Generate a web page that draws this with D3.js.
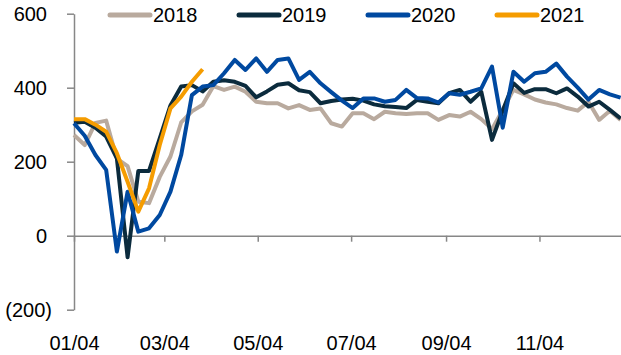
<!DOCTYPE html>
<html>
<head>
<meta charset="utf-8">
<script src="https://cdn.jsdelivr.net/npm/d3@7"></script>
<style>
  html, body { margin: 0; padding: 0; background: #fff; }
  svg { display: block; }
  text { font-family: "Liberation Sans", Arial, sans-serif; }
</style>
</head>
<body>
<svg id="chart" width="621" height="355"></svg>
<script>
// ---- data (weekly, starting 4 Jan) ----
const weekStart = "2021-01-04";
const seriesNames = ["2018", "2019", "2020", "2021"];
const s2018 = [272, 245, 305, 311, 208, 188, 92, 88, 159, 214, 306, 336, 354, 404, 394, 403, 389, 362, 358, 358, 344, 353, 340, 344, 304, 295, 331, 331, 315, 335, 331, 329, 331, 331, 313, 326, 322, 335, 315, 288, 340, 394, 382, 368, 360, 355, 345, 338, 362, 313, 338, 313];
const s2019 = [305, 308, 292, 268, 209, -58, 175, 175, 263, 352, 403, 407, 390, 416, 420, 416, 405, 374, 390, 408, 412, 393, 388, 358, 364, 368, 370, 365, 355, 350, 348, 345, 367, 362, 358, 385, 394, 362, 389, 259, 338, 412, 386, 396, 396, 385, 398, 376, 349, 362, 340, 317];
const s2020 = [304, 270, 218, 178, -43, 119, 11, 20, 56, 119, 218, 380, 403, 407, 439, 475, 448, 479, 443, 475, 479, 421, 443, 412, 388, 365, 345, 371, 371, 362, 367, 394, 372, 371, 360, 385, 381, 389, 398, 457, 292, 443, 416, 439, 443, 465, 430, 400, 368, 394, 382, 373];
const s2021 = [315, 315, 300, 281, 223, 146, 65, 128, 245, 344, 376, 416, 450];
const yTickValues = [-200, 0, 200, 400, 600];
const xTickLabels = ["01/04", "03/04", "05/04", "07/04", "09/04", "11/04"];
const colors = ["#B9AA9E", "#0B2B3D", "#0049A0", "#F59C00"];

// ---- layout ----
const svg = d3.select("#chart");
const parse = d3.timeParse("%Y-%m-%d");
const start = parse(weekStart);
const dateAt = i => d3.timeDay.offset(start, 7 * i);

const x = d3.scaleTime()
  .domain([start, dateAt(51)])
  .range([74, 620.6]);
const y = d3.scaleLinear()
  .domain([-200, 600])
  .range([309.7, 13.7]);

const axisColor = "#878787";
const fontSize = 20;

// y axis
const yAxis = d3.axisLeft(y)
  .tickValues(yTickValues)
  .tickSize(7)
  .tickSizeOuter(0)
  .tickPadding(20)
  .tickFormat(d => d < 0 ? `(${-d})` : `${d}`);
const gy = svg.append("g").attr("transform", "translate(74,0)").call(yAxis);
gy.select(".domain").attr("stroke", axisColor).attr("stroke-width", 1.5);
gy.selectAll(".tick line").attr("stroke", axisColor).attr("stroke-width", 1.5);
gy.selectAll(".tick text")
  .attr("font-size", fontSize)
  .attr("fill", "#000")
  .attr("dx", d => d < 0 ? 5 : 0);

// x axis on zero line (ticks only)
const xTickDates = xTickLabels.map(s => d3.timeParse("%m/%d/%Y")(s + "/2021"));
const xAxis = d3.axisBottom(x)
  .tickValues(xTickDates)
  .tickSize(6)
  .tickSizeOuter(0)
  .tickFormat("");
const gx = svg.append("g").attr("transform", `translate(0,${y(0)})`).call(xAxis);
gx.select(".domain").attr("stroke", axisColor).attr("stroke-width", 1.5);
gx.selectAll(".tick line").attr("stroke", axisColor).attr("stroke-width", 1.5);

// x labels at bottom
const xLabelAxis = d3.axisBottom(x)
  .tickValues(xTickDates)
  .tickSize(0)
  .tickPadding(0)
  .tickFormat(d3.timeFormat("%m/%d"));
const gxl = svg.append("g").attr("transform", "translate(0,336)").call(xLabelAxis);
gxl.select(".domain").remove();
gxl.selectAll(".tick text").attr("font-size", fontSize).attr("fill", "#000");

// lines
const allSeries = [s2018, s2019, s2020, s2021];
const line = d3.line()
  .x((d, i) => x(dateAt(i)))
  .y(d => y(d));
allSeries.forEach((s, k) => {
  svg.append("path")
    .datum(s)
    .attr("fill", "none")
    .attr("stroke", colors[k])
    .attr("stroke-width", 4)
    .attr("stroke-linejoin", "round")
    .attr("stroke-linecap", "butt")
    .attr("d", line);
});

// legend
const legendX = [108, 237, 366, 495];
const lg = svg.append("g");
seriesNames.forEach((name, k) => {
  lg.append("line")
    .attr("x1", legendX[k] + 2).attr("x2", legendX[k] + 42)
    .attr("y1", 15).attr("y2", 15)
    .attr("stroke", colors[k])
    .attr("stroke-width", 5)
    .attr("stroke-linecap", "round");
  lg.append("text")
    .attr("x", legendX[k] + 45)
    .attr("y", 15)
    .attr("dy", "0.35em")
    .attr("font-size", fontSize)
    .attr("fill", "#000")
    .text(name);
});
</script>
</body>
</html>
